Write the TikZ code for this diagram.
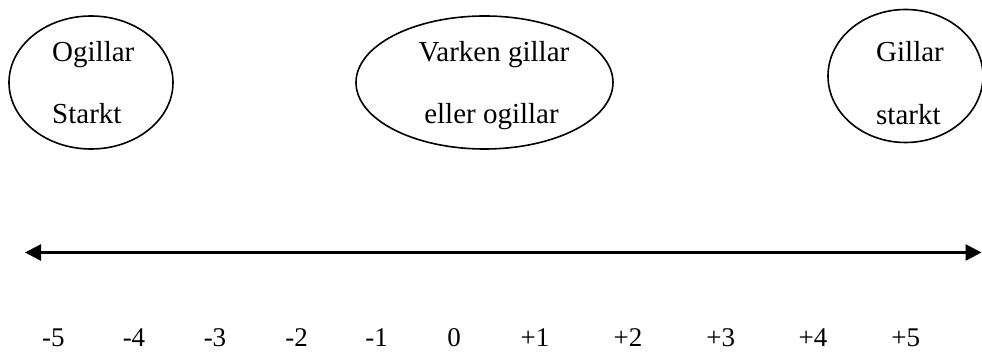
\documentclass[tikz,border=0pt]{standalone}
\usepackage{fontspec}
\setmainfont{Liberation Serif}
\usetikzlibrary{arrows.meta,shapes.geometric}
\tikzset{
  ell/.style={draw, ellipse, line width=1.6pt, inner sep=0pt, outer sep=0pt},
  lbl/.style={inner sep=0pt, font=\fontsize{29pt}{29pt}\selectfont},
  num/.style={inner sep=0pt, anchor=base, font=\fontsize{27pt}{27pt}\selectfont},
  axis/.style={line width=2.6pt, {Triangle[length=16pt,width=16pt]}-{Triangle[length=16pt,width=16pt]}}
}
\begin{document}
\begin{tikzpicture}[x=1pt,y=-1pt]
\useasboundingbox (0,0) rectangle (982,352);
% ellipses
\node[ell, minimum width=164pt, minimum height=133pt] (e1) at (91,82.5) {};
\node[ell, minimum width=257pt, minimum height=133pt] (e2) at (484.5,82.5) {};
\node[ell, minimum width=155pt, minimum height=133pt] (e3) at (905.5,76) {};
% texts
\node[lbl, anchor=base west] (t1a) at (52,62) {Ogillar};
\node[lbl, anchor=base west] (t1b) at (52,124) {Starkt};
\node[lbl, anchor=base] (t2a) at (494,62) {Varken gillar};
\node[lbl, anchor=base] (t2b) at (491.5,124) {eller ogillar};
\node[lbl, anchor=base west] (t3a) at (876,62) {Gillar};
\node[lbl, anchor=base west] (t3b) at (876,125) {starkt};
% axis
\coordinate (aL) at (25,252.5);
\coordinate (aR) at (981.5,252.5);
\draw[axis] (aL) -- (aR);
% numbers
\node[num] (n1) at (53.3,347) {-5};
\node[num] (n2) at (134,347) {-4};
\node[num] (n3) at (215,347) {-3};
\node[num] (n4) at (296.7,347) {-2};
\node[num] (n5) at (376.7,347) {-1};
\node[num] (n6) at (454,347) {0};
\node[num] (n7) at (535,347) {+1};
\node[num] (n8) at (628,347) {+2};
\node[num] (n9) at (720.7,347) {+3};
\node[num] (n10) at (813,347) {+4};
\node[num] (n11) at (905.7,347) {+5};
\end{tikzpicture}
\end{document}
